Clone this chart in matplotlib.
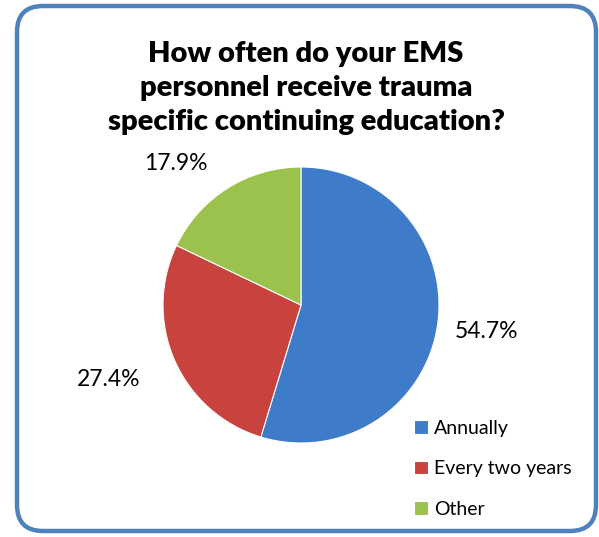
import matplotlib.pyplot as plt
from matplotlib.patches import FancyBboxPatch

categories = ["Annually", "Every two years", "Other"]
shares = [54.7, 27.4, 17.9]
colors = ["#3E7CC9", "#C8423E", "#9CC24E"]
title = "How often do your EMS\npersonnel receive trauma\nspecific continuing education?"

W, H = 599, 537
fig = plt.figure(figsize=(W / 100, H / 100), dpi=100)
ax = fig.add_axes([0, 0, 1, 1])
ax.set_xlim(0, W)
ax.set_ylim(0, H)
ax.axis("off")

# rounded chart frame
frame = FancyBboxPatch((17, 6), 579, 525, boxstyle="round,pad=0,rounding_size=26",
                       fc="white", ec="#4F81BD", lw=3.2, zorder=0)
ax.add_patch(frame)

ax.text(306, H - 88, title, ha="center", va="center", fontsize=21,
        fontweight="heavy", family="Lato", linespacing=1.38)

wedges, _ = ax.pie(shares, colors=colors, startangle=90, counterclock=False,
                   center=(301, H - 305), radius=138,
                   wedgeprops=dict(edgecolor="white", linewidth=0.8))
ax.set_xlim(0, W)
ax.set_ylim(0, H)
ax.set_aspect("equal")

label_pos = [(487, 331), (109, 380), (176, 164)]
for v, (x, y) in zip(shares, label_pos):
    ax.text(x, H - y, f"{v:.1f}%", ha="center", va="center", fontsize=16.5, family="Lato")

leg = ax.legend(wedges, categories, loc="upper left", bbox_to_anchor=(414 / W, 1 - 420 / H),
                frameon=False, prop={"family": "Lato", "size": 14},
                handlelength=0.7, handleheight=0.7, handletextpad=0.35, labelspacing=1.2,
                borderpad=0, borderaxespad=0)

fig.savefig("out.png", dpi=100)
